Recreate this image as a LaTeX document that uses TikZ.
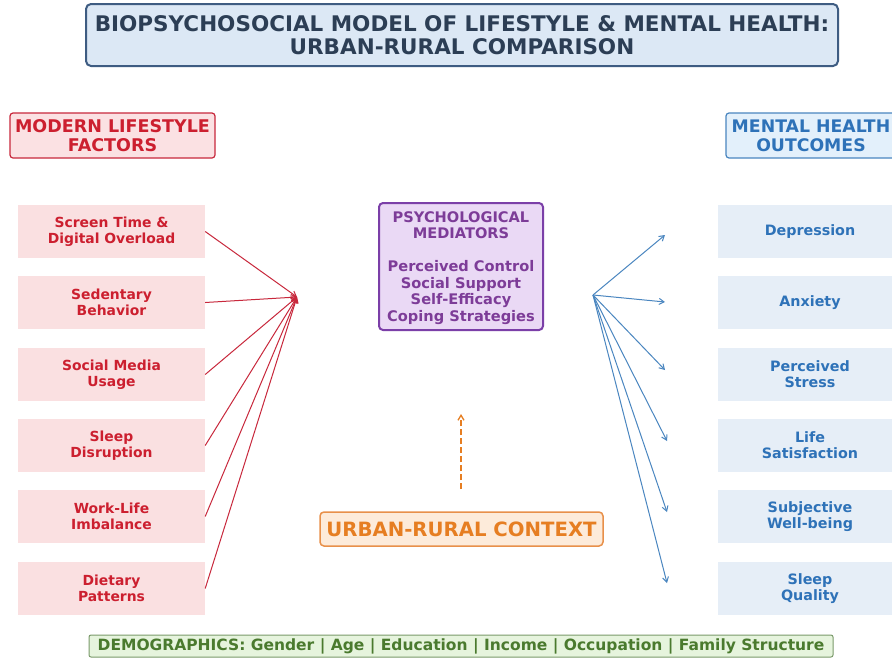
\documentclass[tikz,border=0pt]{standalone}
\usepackage{fontspec}
\setmainfont{DejaVu Sans}
\usetikzlibrary{arrows.meta}
\definecolor{titlefill}{HTML}{DCE8F5}
\definecolor{titledraw}{HTML}{3E5C82}
\definecolor{titletext}{HTML}{2C3E55}
\definecolor{redfill}{HTML}{FBE1E3}
\definecolor{reddraw}{HTML}{C8283C}
\definecolor{redtext}{HTML}{CC1F2F}
\definecolor{boxred}{HTML}{FAE0E1}
\definecolor{bluefill}{HTML}{E3F0FB}
\definecolor{bluedraw}{HTML}{4A86C0}
\definecolor{bluetext}{HTML}{2E72B8}
\definecolor{boxblue}{HTML}{E6EEF7}
\definecolor{purplefill}{HTML}{EAD9F5}
\definecolor{purpledraw}{HTML}{7B3FA8}
\definecolor{purpletext}{HTML}{7D3C98}
\definecolor{orangefill}{HTML}{FDEBDA}
\definecolor{orangedraw}{HTML}{E8904A}
\definecolor{orangetext}{HTML}{E67E22}
\definecolor{greenfill}{HTML}{E6F4DD}
\definecolor{greendraw}{HTML}{7A9A6A}
\definecolor{greentext}{HTML}{4A7A2E}
\tikzset{
  every node/.style={font=\bfseries, align=center, inner sep=0pt},
  titlebox/.style={draw=titledraw, fill=titlefill, line width=2pt, rounded corners=5pt, text=titletext, font=\fontsize{21.5}{23}\bfseries},
  hdrred/.style={draw=reddraw, fill=redfill, line width=1.2pt, rounded corners=3pt, text=redtext, font=\fontsize{17.5}{19}\bfseries},
  hdrblue/.style={draw=bluedraw, fill=bluefill, line width=1.2pt, rounded corners=3pt, text=bluetext, font=\fontsize{17.3}{19}\bfseries},
  leftbox/.style={fill=boxred, text=redtext, minimum width=187pt, minimum height=53pt, font=\fontsize{13.9}{16}\bfseries},
  rightbox/.style={fill=boxblue, text=bluetext, minimum width=187pt, minimum height=53pt, font=\fontsize{14.3}{16}\bfseries},
  medbox/.style={draw=purpledraw, fill=purplefill, line width=2pt, rounded corners=4pt, text=purpletext, font=\fontsize{14.6}{16.5}\bfseries},
  ctxbox/.style={draw=orangedraw, fill=orangefill, line width=1.5pt, rounded corners=4pt, text=orangetext, font=\fontsize{19.7}{22}\bfseries},
  demobox/.style={draw=greendraw, fill=greenfill, line width=1pt, rounded corners=2pt, text=greentext, font=\fontsize{15.5}{17}\bfseries},
  redarrow/.style={draw=reddraw, line width=1pt, -{Straight Barb[length=5pt,width=6pt]}},
  bluearrow/.style={draw=bluedraw, line width=1pt, -{Straight Barb[length=5pt,width=6pt]}},
  ctxarrow/.style={draw=orangetext, line width=1.3pt, dash pattern=on 6pt off 3pt, -{Straight Barb[length=5pt,width=6pt]}}
}
\begin{document}
\begin{tikzpicture}[x=1pt,y=-1pt]
\useasboundingbox (0,0) rectangle (892,659);
\fill[white] (0,0) rectangle (892,659);

\node[titlebox, minimum width=752pt, minimum height=62pt] (title) at (462,35)
  {BIOPSYCHOSOCIAL MODEL OF LIFESTYLE \& MENTAL HEALTH:\\URBAN-RURAL COMPARISON};

\node[hdrred, minimum width=205pt, minimum height=45pt] (lhdr) at (112.5,135.5) {MODERN LIFESTYLE\\FACTORS};
\node[hdrblue, minimum width=170pt, minimum height=45pt] (rhdr) at (811,135.5) {MENTAL HEALTH\\OUTCOMES};

\node[leftbox] (l1) at (111.5,231.5) {Screen Time \&\\Digital Overload};
\node[leftbox] (l2) at (111.5,302.5) {Sedentary\\Behavior};
\node[leftbox] (l3) at (111.5,374.5) {Social Media\\Usage};
\node[leftbox] (l4) at (111.5,445.5) {Sleep\\Disruption};
\node[leftbox] (l5) at (111.5,516.5) {Work-Life\\Imbalance};
\node[leftbox] (l6) at (111.5,588.5) {Dietary\\Patterns};

\node[rightbox, minimum width=184pt] (r1) at (810,231.5) {Depression};
\node[rightbox, minimum width=184pt] (r2) at (810,302.5) {Anxiety};
\node[rightbox, minimum width=184pt] (r3) at (810,374.5) {Perceived\\Stress};
\node[rightbox, minimum width=184pt] (r4) at (810,445.5) {Life\\Satisfaction};
\node[rightbox, minimum width=184pt] (r5) at (810,516.5) {Subjective\\Well-being};
\node[rightbox, minimum width=184pt] (r6) at (810,588.5) {Sleep\\Quality};

\node[medbox, minimum width=164pt, minimum height=127pt] (med) at (461,266.5) {};
\node[text=purpletext, font=\fontsize{14.6}{16.5}\bfseries] (medtext) at (461,268)
  {PSYCHOLOGICAL\\MEDIATORS\\[16.5pt]Perceived Control\\Social Support\\Self-Efficacy\\Coping Strategies};

\node[ctxbox, minimum width=283pt, minimum height=34pt] (ctx) at (461.5,529) {URBAN-RURAL CONTEXT};

\node[demobox, minimum width=744pt, minimum height=22pt] (demo) at (461,646)
  {DEMOGRAPHICS: Gender | Age | Education | Income | Occupation | Family Structure};

\coordinate (conv) at (297,297);
\coordinate (div) at (593,295);
\coordinate (t1) at (665,235);
\coordinate (t2) at (665,302);
\coordinate (t3) at (665,370);
\coordinate (t4) at (667,441);
\coordinate (t5) at (667,512);
\coordinate (t6) at (667,583);
\coordinate (cs) at (461,489);
\coordinate (ce) at (461,414);

\foreach \i in {1,...,6} { \draw[redarrow] (l\i.east) -- (conv); }
\foreach \i in {1,...,6} { \draw[bluearrow] (div) -- (t\i); }
\draw[ctxarrow] (cs) -- (ce);
\end{tikzpicture}
\end{document}
